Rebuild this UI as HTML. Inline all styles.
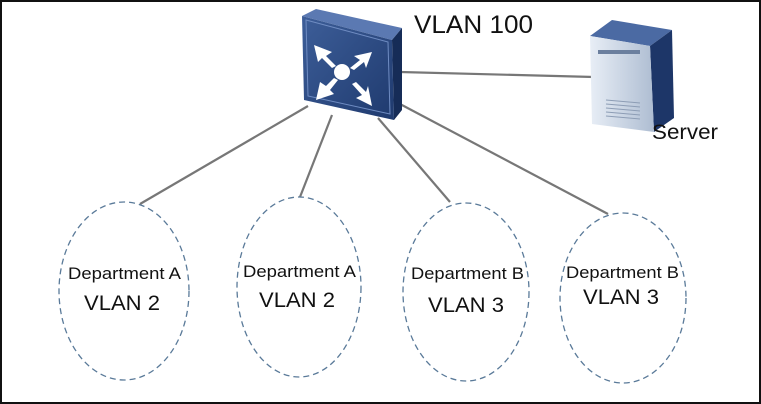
<!DOCTYPE html>
<html><head><style>
html,body{margin:0;padding:0;background:#fff;}
svg{display:block;}
text{font-family:"Liberation Sans",Arial,sans-serif;fill:#111;}
</style></head><body>
<svg width="761" height="404" viewBox="0 0 761 404">
<defs>
<linearGradient id="sw" x1="0" y1="0" x2="1" y2="1">
<stop offset="0" stop-color="#3d5e99"/><stop offset="1" stop-color="#1f3a6e"/>
</linearGradient>
<linearGradient id="sv" x1="0" y1="0" x2="1" y2="0">
<stop offset="0" stop-color="#e8eef6"/><stop offset="1" stop-color="#aebdd2"/>
</linearGradient>
</defs>
<rect x="1" y="1" width="759" height="402" fill="#fff" stroke="#111" stroke-width="2"/>
<g stroke="#777" stroke-width="2.2">
<line x1="400" y1="72" x2="594" y2="77"/>
<line x1="308" y1="106" x2="140" y2="204"/>
<line x1="332" y1="115" x2="300" y2="197"/>
<line x1="378" y1="118" x2="450" y2="202"/>
<line x1="400" y1="104" x2="608" y2="214"/>
</g>
<!-- switch -->
<polygon points="302,16 316,9 402,28 392,40" fill="#5b79b2"/>
<polygon points="392,40 402,28 402,110 394,120" fill="#162c57"/>
<polygon points="302,16 392,40 394,120 304,100" fill="url(#sw)"/>
<polygon points="306,20 388,42 390,114 308,96" fill="none" stroke="#6f8cc2" stroke-width="1"/>
<g fill="#fff">
<circle cx="342" cy="72" r="8"/>
<polygon points="314,45 332,52 326,56 336,66 332,68 322,58 318,62"/>
<polygon points="372,52 354,56 360,60 350,68 354,70 364,62 366,68"/>
<polygon points="316,100 320,82 326,86 334,78 338,80 330,90 334,94"/>
<polygon points="372,106 356,98 362,95 352,84 356,82 366,92 368,86"/>
</g>
<!-- server -->
<polygon points="590,36 612,20 672,30 650,46" fill="#4b6aa3"/>
<polygon points="650,46 672,30 674,118 654,132" fill="#1d3668"/>
<polygon points="590,36 650,46 654,132 592,124" fill="url(#sv)"/>
<rect x="598" y="50" width="42" height="4" fill="#6b7f9e"/>
<g stroke="#8d9db5" stroke-width="1">
<line x1="606" y1="100" x2="640" y2="103"/><line x1="606" y1="104" x2="640" y2="107"/>
<line x1="606" y1="108" x2="640" y2="111"/><line x1="606" y1="112" x2="640" y2="115"/>
<line x1="606" y1="116" x2="640" y2="119"/>
</g>
<text x="414" y="33" font-size="25" textLength="119" lengthAdjust="spacingAndGlyphs">VLAN 100</text>
<text x="652" y="139" font-size="21" textLength="66" lengthAdjust="spacingAndGlyphs">Server</text>
<g fill="none" stroke="#5a7a99" stroke-width="1.3" stroke-dasharray="6,4">
<ellipse cx="124" cy="291" rx="65" ry="89"/>
<ellipse cx="299" cy="287" rx="62" ry="90"/>
<ellipse cx="466" cy="292" rx="63" ry="89"/>
<ellipse cx="623" cy="298" rx="63" ry="85"/>
</g>
<g font-size="17">
<text x="68" y="279" textLength="113" lengthAdjust="spacingAndGlyphs">Department A</text>
<text x="243" y="277" textLength="113" lengthAdjust="spacingAndGlyphs">Department A</text>
<text x="411" y="279" textLength="113" lengthAdjust="spacingAndGlyphs">Department B</text>
<text x="566" y="278" textLength="113" lengthAdjust="spacingAndGlyphs">Department B</text>
</g>
<g font-size="21">
<text x="84" y="310" textLength="76" lengthAdjust="spacingAndGlyphs">VLAN 2</text>
<text x="259" y="307" textLength="76" lengthAdjust="spacingAndGlyphs">VLAN 2</text>
<text x="428" y="312" textLength="76" lengthAdjust="spacingAndGlyphs">VLAN 3</text>
<text x="583" y="304" textLength="76" lengthAdjust="spacingAndGlyphs">VLAN 3</text>
</g>
</svg>
</body></html>
